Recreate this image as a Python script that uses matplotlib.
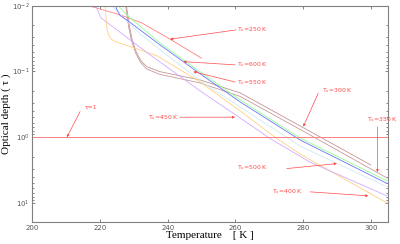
import matplotlib
matplotlib.use("Agg")
import matplotlib.pyplot as plt
from matplotlib.ticker import LogLocator, NullFormatter

# temperature profiles (T in K, optical depth tau)
t_250 = [216.8, 225.9, 232.3, 240.7, 250.0]
tau_250 = [0.0101, 0.0138, 0.0183, 0.0324, 0.0630]

t_300 = [227.8, 228.6, 229.5, 230.7, 232.1, 233.9, 237.7, 249.6, 261.4, 279.1, 300.0]
tau_300 = [0.0101, 0.0196, 0.0332, 0.0506, 0.0692, 0.0855, 0.101, 0.135, 0.212, 0.673, 2.64]

t_350 = [227.6, 228.4, 229.3, 230.5, 232.0, 233.7, 237.7, 249.6, 261.4, 279.1, 304.8]
tau_350 = [0.0101, 0.0204, 0.0344, 0.0524, 0.0730, 0.0916, 0.111, 0.150, 0.240, 0.760, 4.16]

t_400 = [221.5, 221.8, 222.1, 222.7, 223.6, 224.4, 231.8, 236.9, 249.6, 261.4, 271.7, 279.1, 304.8]
tau_400 = [0.0101, 0.0165, 0.0234, 0.0294, 0.0332, 0.0350, 0.0471, 0.0581, 0.145, 0.398, 1.0, 1.8, 10.0]

t_450 = [218.8, 219.7, 220.3, 234.8, 249.6, 261.4, 270.3, 282.1, 304.8]
tau_450 = [0.0101, 0.0132, 0.0154, 0.0561, 0.198, 0.510, 1.05, 2.40, 7.80]

t_500 = [223.5, 231.8, 249.6, 261.4, 279.1, 304.8]
tau_500 = [0.0101, 0.0269, 0.139, 0.347, 1.36, 5.69]

t_550 = [224.6, 225.0, 225.9, 228.3, 237.7, 249.6, 261.4, 279.1, 304.8]
tau_550 = [0.0101, 0.0116, 0.0141, 0.0171, 0.0395, 0.109, 0.291, 1.10, 5.04]

t_600 = [225.4, 227.1, 228.9, 237.7, 249.6, 261.4, 279.1, 304.8]
tau_600 = [0.0101, 0.0125, 0.0154, 0.0369, 0.102, 0.271, 1.03, 4.61]

curves = [
    (t_250, tau_250, "#ff8080"),
    (t_300, tau_300, "#c49494"),
    (t_350, tau_350, "#c89a9a"),
    (t_400, tau_400, "#ffd080"),
    (t_450, tau_450, "#d4aaff"),
    (t_500, tau_500, "#cdebf5"),
    (t_550, tau_550, "#7070ff"),
    (t_600, tau_600, "#90ff90"),
]

# labels: text, text position, arrow start, arrow tip
labels = [
    ("T$_s$=250 K", (260.6, 0.0229), (260.2, 0.0234), (240.7, 0.0324)),
    ("T$_s$=600 K", (260.6, 0.0796), (259.9, 0.0796), (244.6, 0.0710)),
    ("T$_s$=550 K", (260.6, 0.146), (259.9, 0.145), (247.6, 0.101)),
    ("T$_s$=300 K", (285.5, 0.198), (284.5, 0.214), (280.1, 0.690)),
    ("T$_s$=350 K", (298.8, 0.546), (302.0, 0.697), (302.0, 3.40)),
    ("T$_s$=450 K", (234.3, 0.497), (243.6, 0.497), (259.9, 0.497)),
    ("T$_s$=500 K", (260.4, 2.90), (275.2, 3.00), (290.0, 2.52)),
    ("T$_s$=400 K", (270.7, 6.78), (282.1, 6.78), (299.3, 7.80)),
    ("τ=1", (215.6, 0.350), (214.1, 0.408), (210.2, 1.0)),
]

red = "#ff4a4a"

fig = plt.figure(figsize=(4, 2.44), dpi=100)
ax = fig.add_axes([0.081, 0.090, 0.888, 0.887])

for t, tau, c in curves:
    ax.plot(t, tau, color=c, lw=0.6)

ax.axhline(1.0, color="#ff8080", lw=0.7)

for txt, pos, start, tip in labels:
    ax.text(pos[0], pos[1], txt, color=red, fontsize=4.4, ha="left", va="center",
            family="DejaVu Sans", clip_on=False)
    ax.annotate("", xy=tip, xytext=start,
                arrowprops=dict(arrowstyle="-|>", color=red, lw=0.5,
                                mutation_scale=3.5, shrinkA=0, shrinkB=0))

ax.set_yscale("log")
ax.set_xlim(200, 305)
ax.set_ylim(19.5, 0.01)
ax.set_xticks([200, 220, 240, 260, 280, 300])
ax.yaxis.set_minor_locator(LogLocator(base=10, subs=range(2, 10)))
ax.yaxis.set_minor_formatter(NullFormatter())

ax.tick_params(which="both", direction="in", top=True, right=True,
               labelsize=5, colors="#555555", length=2, width=0.5, pad=2)
ax.tick_params(which="minor", length=1.2)
for s in ax.spines.values():
    s.set_color("#808080")
    s.set_linewidth(0.8)

ax.set_xlabel("Temperature    [ K ]", family="Liberation Serif", fontsize=8, labelpad=0)
ax.set_ylabel("Optical depth ( τ )", family="Liberation Serif", fontsize=8, labelpad=0.5)

fig.savefig("out.png", dpi=100)
